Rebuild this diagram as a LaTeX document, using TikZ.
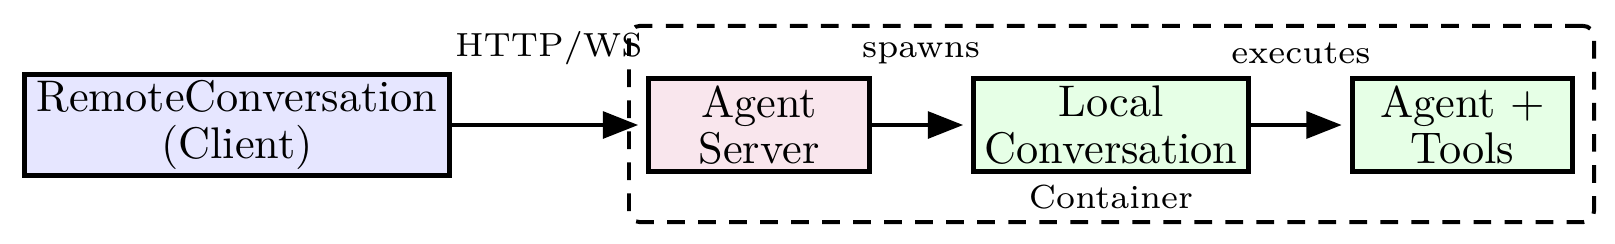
\documentclass[tikz,border=0pt]{standalone}
\usetikzlibrary{arrows.meta}
\definecolor{clientfill}{RGB}{230,230,255}
\definecolor{serverfill}{RGB}{249,230,237}
\definecolor{localfill}{RGB}{230,255,230}
\font\lablfont="[lmroman7-regular.otf]" at 7.55pt
\begin{document}
\begin{tikzpicture}[x=0.2257pt,y=-0.2257pt,
  box/.style={draw, line width=1.1pt, align=center, inner sep=0pt,
    font=\fontsize{10}{10.5}\selectfont, minimum height=20.9pt},
  flow/.style={line width=1pt, -{Triangle[length=8pt,width=6pt]}, shorten >=1.8pt},
  lbl/.style={font=\lablfont, anchor=base, inner sep=0pt},
  cont/.style={draw, line width=0.9pt, dash pattern=on 4pt off 3pt, rounded corners=2.5pt,
    inner sep=0pt, minimum width=217.8pt, minimum height=44.3pt}]
\useasboundingbox (0,0) rectangle (1615,243);
\node[cont] (container) at (1111.5,124) {};
\node[box, fill=clientfill, minimum width=95.9pt, minimum height=22.75pt] (client) at (237,125) {RemoteConversation\\(Client)};
\node[box, fill=serverfill, minimum width=49.8pt] (server) at (759,125) {Agent\\Server};
\node[box, fill=localfill, minimum width=62pt] (local) at (1111,125) {Local\\Conversation};
\node[box, fill=localfill, minimum width=49.8pt] (tools) at (1462.5,125) {Agent +\\Tools};
\node[lbl] (lhttp) at (549,56) {HTTP/WS};
\node[lbl] (lspawn) at (921,57) {spawns};
\node[lbl] (lexec) at (1301,63) {executes};
\node[lbl] (lcont) at (1111,208) {Container};
\draw[flow] (client) -- (server);
\draw[flow] (server) -- (local);
\draw[flow] (local) -- (tools);
\end{tikzpicture}
\end{document}
